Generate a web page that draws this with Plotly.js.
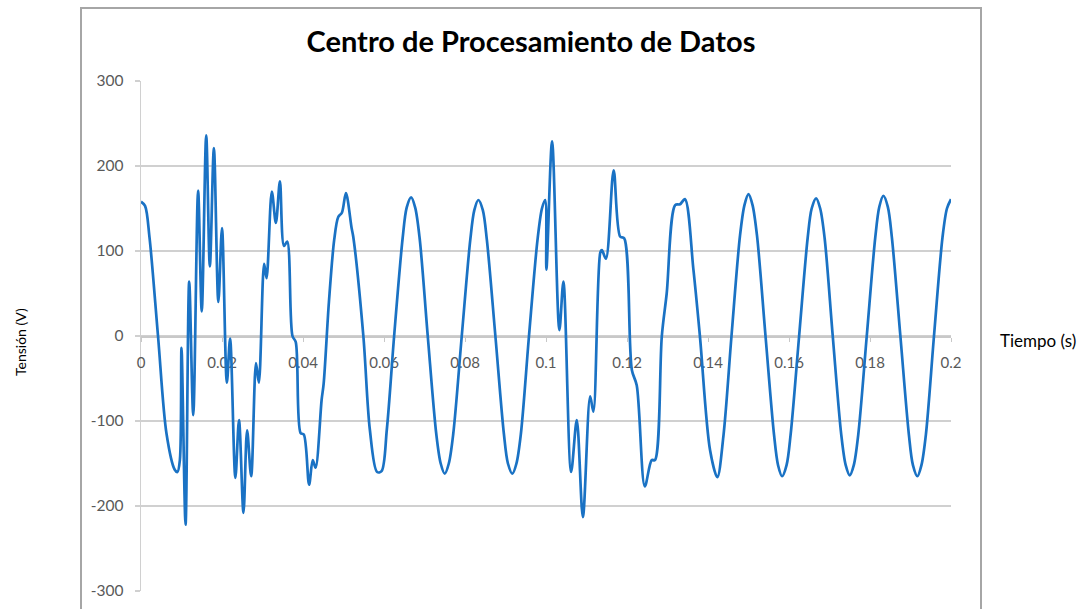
<!DOCTYPE html>
<html>
<head>
<meta charset="utf-8">
<script src="https://cdn.plot.ly/plotly-3.0.1.min.js"></script>
<style>
html,body{margin:0;padding:0;background:#fff;}
#chart{width:1090px;height:609px;}
</style>
</head>
<body>
<div id="chart"></div>
<script>
// Time (s) and voltage (V)
const timeS = [
0.0000,0.0010,0.0021,0.0042,0.0063,0.0083,0.0090,0.0096,
0.0100,0.0110,0.0119,0.0129,0.0141,0.0150,0.0161,0.0170,0.0180,0.0191,0.0200,
0.0212,0.0220,0.0233,0.0242,0.0253,0.0262,0.0272,0.0284,0.0291,0.0304,0.0310,
0.0323,0.0333,0.0343,0.0353,0.0361,0.0374,0.0382,0.0394,0.0402,0.0415,0.0424,
0.0431,0.0446,0.0451,0.0464,0.0477,0.0487,0.0496,0.0506,0.0520,0.0524,0.0549,
0.0565,0.0583,0.0594,0.0607,0.0625,0.0646,0.0656,0.0667,0.0677,0.0688,0.0708,
0.0729,0.0740,0.0750,0.0760,0.0771,0.0792,0.0813,0.0823,0.0833,0.0844,0.0854,
0.0875,0.0896,0.0906,0.0917,0.0927,0.0938,0.0958,0.0979,
0.0990,0.0998,0.1001,0.1015,0.1033,0.1043,0.1062,0.1076,0.1091,0.1109,0.1117,
0.1134,0.1138,0.1148,0.1167,0.1183,0.1193,0.1212,0.1224,0.1244,0.1261,0.1269,
0.1286,0.1298,0.1319,0.1331,0.1343,0.1364,0.1380,0.1405,0.1423,0.1438,0.1458,
0.1479,0.1490,0.1500,0.1510,0.1521,0.1542,0.1563,0.1573,0.1583,0.1594,0.1604,
0.1625,0.1646,0.1656,0.1667,0.1677,0.1688,0.1708,0.1729,0.1740,0.1750,0.1760,
0.1771,0.1792,0.1813,0.1823,0.1833,0.1844,0.1854,0.1875,0.1896,0.1906,0.1917,
0.1927,0.1938,0.1958,0.1979,0.1990,0.2000
];
const voltageV = [
158,153,116,0,-115,-157,-160,-146,
-14,-222,64,-93,171,29,236,82,221,40,127,
-55,-3,-167,-99,-208,-111,-165,-32,-55,85,68,
170,133,182,106,111,0,-7,-114,-116,-175,-146,
-155,-75,-56,40,113,140,145,168,127,117,0,
-110,-160,-159,-110,0,115,151,163,151,115,0,
-115,-150,-162,-150,-115,0,113,148,160,148,113,
0,-115,-150,-162,-150,-115,0,113,
150,160,78,229,7,64,-160,-99,-213,-71,-89,
98,101,91,195,117,115,-40,-58,-177,-146,-146,
0,50,154,155,161,78,0,-134,-166,-118,0,
118,154,167,154,118,0,-116,-152,-165,-152,-116,
0,115,150,162,150,115,0,-116,-152,-164,-152,
-116,0,116,152,165,152,116,0,-116,-152,-165,
-152,-116,0,116,150,161
];
const yTickVals = [-300,-200,-100,0,100,200,300];
const yTickText = ["-300","-200","-100","0","100","200","300"];
const xTickVals = [0,0.02,0.04,0.06,0.08,0.1,0.12,0.14,0.16,0.18,0.2];
const xTickText = ["0","0.02","0.04","0.06","0.08","0.1","0.12","0.14","0.16","0.18","0.2"];

const FONT = "Lato, 'Open Sans', sans-serif";

const trace = {
  x: timeS, y: voltageV, type: 'scatter', mode: 'lines',
  line: {color: '#1a72c4', width: 2.7, shape: 'spline', smoothing: 0.9},
  hoverinfo: 'x+y'
};

const layout = {
  width: 1090, height: 609,
  margin: {l: 141, r: 139, t: 81, b: 18, pad: 0},
  paper_bgcolor: '#ffffff', plot_bgcolor: '#ffffff',
  showlegend: false,
  font: {family: FONT, color: '#595959', size: 15},
  title: {
    text: '<b>Centro de Procesamiento de Datos</b>',
    font: {family: FONT, size: 29, color: '#000000'},
    x: 531/1090, xref: 'container', xanchor: 'center',
    y: 1 - 42/609, yref: 'container', yanchor: 'middle'
  },
  xaxis: {
    range: [0, 0.2], anchor: 'free', position: 0.5,
    tickmode: 'array', tickvals: xTickVals, ticktext: xTickText,
    showgrid: false, zeroline: false,
    showline: true, linecolor: '#c8c8c8', linewidth: 1.5,
    ticks: 'outside', ticklen: 4, tickcolor: '#c8c8c8', tickwidth: 1,
    ticklabelstandoff: 8,
    tickfont: {family: FONT, size: 15, color: '#595959'},
    layer: 'below traces', fixedrange: true
  },
  yaxis: {
    range: [-300, 300],
    tickmode: 'array', tickvals: yTickVals, ticktext: yTickText,
    showgrid: true, gridcolor: '#d0d0d0', gridwidth: 1.5,
    zeroline: false,
    showline: true, linecolor: '#d0d0d0', linewidth: 1.5,
    ticks: 'outside', ticklen: 5, tickcolor: '#d0d0d0', tickwidth: 1.5,
    ticklabelstandoff: 8,
    tickfont: {family: FONT, size: 15.5, color: '#595959'},
    layer: 'below traces', fixedrange: true
  },
  shapes: [{
    type: 'rect', xref: 'paper', yref: 'paper',
    x0: (81-141)/810, x1: (981-141)/810,
    y0: (591-640)/510, y1: (591-8)/510,
    line: {color: '#a6a6a6', width: 2}, fillcolor: 'rgba(0,0,0,0)', layer: 'below'
  }],
  annotations: [
    {text: 'Tensión (V)', textangle: -90, xref: 'paper', yref: 'paper',
     x: (20-141)/810, y: (591-342)/510, xanchor: 'center', yanchor: 'middle',
     showarrow: false, font: {family: FONT, size: 14, color: '#000000'}},
    {text: 'Tiempo (s)', xref: 'paper', yref: 'paper',
     x: (1038-141)/810, y: (591-340)/510, xanchor: 'center', yanchor: 'middle',
     showarrow: false, font: {family: FONT, size: 17, color: '#000000'}}
  ]
};

Plotly.newPlot('chart', [trace], layout, {displayModeBar: false, staticPlot: true});
</script>
</body>
</html>
